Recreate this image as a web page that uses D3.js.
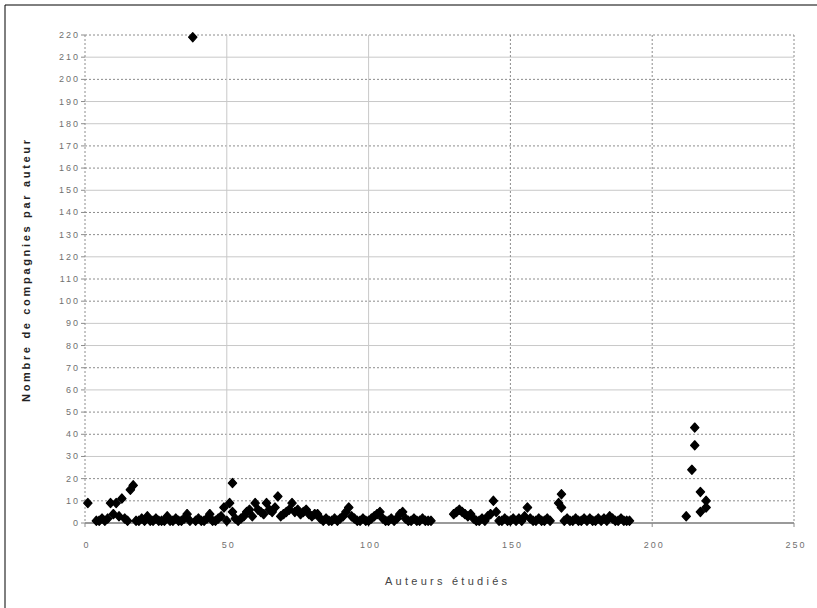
<!DOCTYPE html>
<html lang="fr">
<head>
    <meta charset="UTF-8">
    <title>Nombre de compagnies par auteur</title>
    <script src="https://d3js.org/d3.v7.min.js"></script>
    <style>
        body {
            margin: 0;
            background-color: #fff;
        }
        svg {
            display: block;
            font-family: Arial, "Liberation Sans", sans-serif;
        }
        .tick-label {
            font-size: 9px;
            letter-spacing: 2px;
            fill: #707070;
        }
    </style>
</head>
<body>
    <svg id="chart" width="817" height="608"></svg>
    <script>
// Axis ticks
const xTicks = [0, 50, 100, 150, 200, 250];
const yTicks = [0, 10, 20, 30, 40, 50, 60, 70, 80, 90, 100, 110, 120, 130, 140, 150, 160, 170, 180, 190, 200, 210, 220];

// Titles
const xTitle = "Auteurs étudiés";
const yTitle = "Nombre de compagnies par auteur";

// [auteur, nombre de compagnies]
const groupeGauche = [
    [1, 9], [4, 1], [5, 1], [6, 2], [7, 1], [8, 2], [9, 9], [10, 4], [11, 9], [12, 3],
    [13, 11], [14, 2], [15, 1], [16, 15], [17, 17], [18, 1], [19, 1], [20, 2], [21, 1], [22, 3],
    [23, 1], [24, 1], [25, 2], [26, 1], [27, 1], [28, 1], [29, 3], [30, 1], [31, 1], [32, 2],
    [33, 1], [34, 1], [35, 2], [36, 4], [37, 1], [38, 219], [39, 1], [40, 2], [41, 1], [42, 1],
    [43, 2], [44, 4], [45, 1], [46, 1], [47, 2], [48, 3], [49, 7], [50, 1], [51, 9], [52, 18],
    [52, 5], [53, 2], [54, 1], [55, 2], [56, 3], [57, 5], [58, 6], [59, 3], [60, 9], [61, 6],
    [62, 5], [63, 4], [64, 9], [65, 6], [66, 5], [67, 7], [68, 12], [69, 3], [70, 4], [71, 5],
    [72, 6], [73, 9], [74, 5], [75, 6], [76, 4], [77, 5], [78, 6], [79, 4], [80, 3], [81, 4],
    [82, 4], [83, 2], [84, 1], [85, 2], [86, 1], [87, 1], [88, 2], [89, 1], [90, 2], [91, 3],
    [92, 5], [93, 7], [94, 3], [95, 2], [96, 1], [97, 1], [98, 2], [99, 1], [100, 1], [101, 2],
    [102, 3], [103, 4], [104, 5], [105, 2], [106, 1], [107, 1], [108, 2], [109, 1], [110, 2],
    [111, 4], [112, 5], [113, 2], [114, 1], [115, 1], [116, 2], [117, 1], [118, 1], [119, 2],
    [120, 1], [121, 1], [122, 1]
];

const groupeMilieu = [
    [130, 4], [131, 5], [132, 6], [133, 5], [134, 4], [135, 3], [136, 4], [137, 2], [138, 1],
    [139, 1], [140, 2], [141, 1], [142, 3], [143, 4], [144, 10], [145, 5], [146, 1], [147, 1],
    [148, 2], [149, 1], [150, 1], [151, 2], [152, 1], [153, 2], [154, 1], [155, 3], [156, 7],
    [157, 2], [158, 1], [159, 1], [160, 2], [161, 1], [162, 1], [163, 2], [164, 1], [167, 9],
    [168, 13], [168, 7], [169, 1], [170, 2], [171, 1], [172, 1], [173, 2], [174, 1], [175, 1],
    [176, 2], [177, 1], [178, 2], [179, 1], [180, 1], [181, 2], [182, 1], [183, 2], [184, 1],
    [185, 3], [186, 2], [187, 1], [188, 1], [189, 2], [190, 1], [191, 1], [192, 1]
];

const groupeDroite = [
    [212, 3], [214, 24], [215, 43], [215, 35], [217, 14], [217, 5], [219, 10], [219, 7]
];

const points = groupeGauche.concat(groupeMilieu, groupeDroite);

// gridlines that come out as light solid lines in the picture
const lightY = [210, 190, 180, 150, 120, 90, 80, 60, 30];
const lightX = [50, 100];

const svg = d3.select("#chart");

svg.append("rect")
    .attr("width", 817)
    .attr("height", 608)
    .attr("fill", "#fff");

// outer frame (left and top edges only show)
svg.append("line").attr("x1", 5).attr("y1", 5).attr("x2", 817).attr("y2", 5)
    .attr("stroke", "#000");
svg.append("line").attr("x1", 5).attr("y1", 5).attr("x2", 5).attr("y2", 608)
    .attr("stroke", "#000");

const x = d3.scaleLinear().domain([0, 250]).range([85, 794]);
const y = d3.scaleLinear().domain([0, 220]).range([523, 35]);

// horizontal gridlines
svg.append("g")
    .selectAll("line")
    .data(yTicks.filter(d => d > 0))
    .join("line")
    .attr("x1", x(0)).attr("x2", x(250))
    .attr("y1", d => y(d)).attr("y2", d => y(d))
    .attr("stroke", d => lightY.includes(d) ? "#c8c8c8" : "#8c8c8c")
    .attr("stroke-dasharray", d => lightY.includes(d) ? null : "2,2");

// vertical gridlines
svg.append("g")
    .selectAll("line")
    .data(xTicks)
    .join("line")
    .attr("x1", d => x(d)).attr("x2", d => x(d))
    .attr("y1", y(220)).attr("y2", y(0))
    .attr("stroke", d => lightX.includes(d) ? "#c8c8c8" : "#8c8c8c")
    .attr("stroke-dasharray", d => lightX.includes(d) ? null : "2,2");

// bottom axis line
svg.append("line")
    .attr("x1", x(0)).attr("x2", x(250))
    .attr("y1", y(0)).attr("y2", y(0))
    .attr("stroke", "#9a9a9a")
    .attr("stroke-width", 2);

// y ticks + labels
const yAxis = svg.append("g");
yAxis.selectAll("line")
    .data(yTicks)
    .join("line")
    .attr("x1", x(0) - 4).attr("x2", x(0))
    .attr("y1", d => y(d)).attr("y2", d => y(d))
    .attr("stroke", "#8c8c8c");
yAxis.selectAll("text")
    .data(yTicks)
    .join("text")
    .attr("class", "tick-label")
    .attr("x", x(0) - 5)
    .attr("y", d => y(d) + 3)
    .attr("text-anchor", "end")
    .text(d => d);

// x ticks + labels
const xAxis = svg.append("g");
xAxis.selectAll("line")
    .data(xTicks)
    .join("line")
    .attr("x1", d => x(d)).attr("x2", d => x(d))
    .attr("y1", y(0)).attr("y2", y(0) + 4)
    .attr("stroke", "#8c8c8c");
xAxis.selectAll("text")
    .data(xTicks)
    .join("text")
    .attr("class", "tick-label")
    .attr("x", d => x(d) + 2)
    .attr("y", 548)
    .attr("text-anchor", "middle")
    .text(d => d);

// axis titles
svg.append("text")
    .attr("x", 446)
    .attr("y", 585)
    .attr("text-anchor", "middle")
    .attr("font-size", 11)
    .attr("fill", "#444")
    .attr("textLength", 122)
    .attr("lengthAdjust", "spacing")
    .text(xTitle);

svg.append("text")
    .attr("transform", "translate(30,271) rotate(-90)")
    .attr("text-anchor", "middle")
    .attr("font-size", 11)
    .attr("font-weight", "bold")
    .attr("fill", "#222")
    .attr("textLength", 262)
    .attr("lengthAdjust", "spacing")
    .text(yTitle);

// markers: small black diamonds, stroked so they read as solid blobs
const diamond = {
    draw(context, size) {
        const r = Math.sqrt(size) / 2;
        context.moveTo(0, -r * 1.1);
        context.lineTo(r, 0);
        context.lineTo(0, r * 1.1);
        context.lineTo(-r, 0);
        context.closePath();
    }
};

svg.append("g")
    .selectAll("path")
    .data(points)
    .join("path")
    .attr("d", d3.symbol().type(diamond).size(70))
    .attr("transform", d => `translate(${x(d[0])},${y(d[1])})`)
    .attr("fill", "#000")
    .attr("stroke", "#000")
    .attr("stroke-width", 1.2)
    .attr("stroke-linejoin", "round");
    </script>
</body>
</html>
